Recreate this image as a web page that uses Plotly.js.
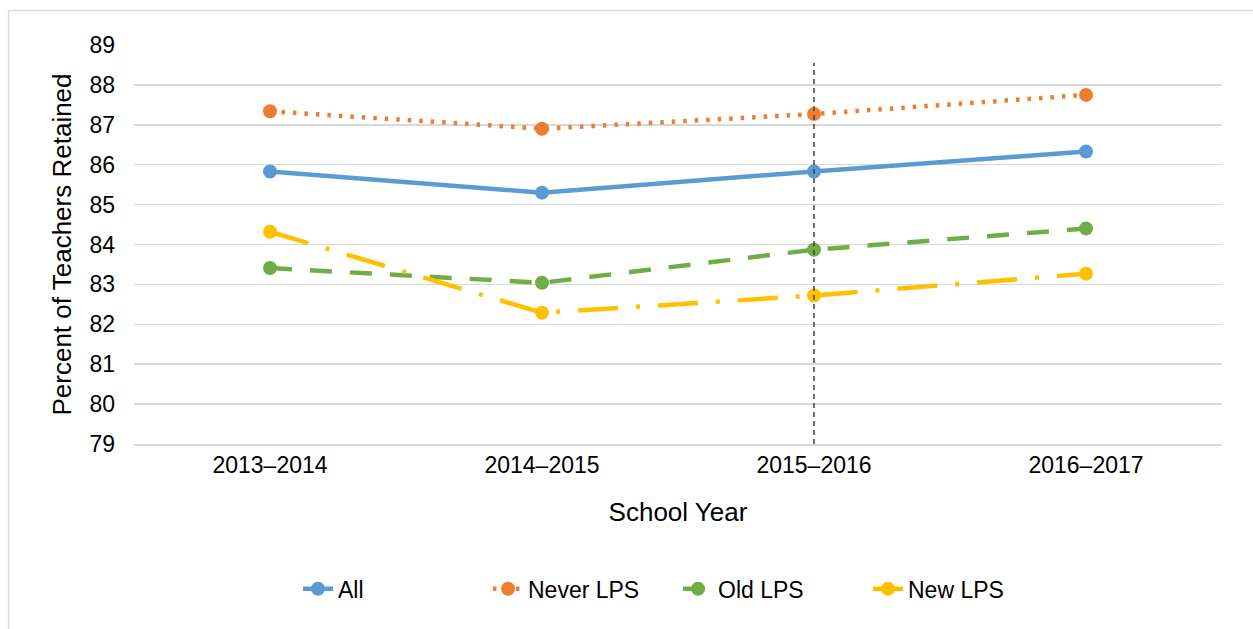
<!DOCTYPE html>
<html>
<head>
<meta charset="utf-8">
<script src="https://cdn.plot.ly/plotly-3.0.1.min.js"></script>
<style>html,body{margin:0;padding:0;background:#fff;}#chart{width:1253px;height:629px;}</style>
</head>
<body>
<div id="chart"></div>
<script>
const years = ["2013–2014", "2014–2015", "2015–2016", "2016–2017"];
const allValues = [85.83, 85.30, 85.83, 86.33];
const neverLPS = [87.34, 86.90, 87.27, 87.75];
const oldLPS = [83.41, 83.04, 83.87, 84.40];
const newLPS = [84.32, 82.29, 82.72, 83.27];
const seriesNames = ["All", "Never LPS", "Old LPS", "New LPS"];
const yTicks = [79, 80, 81, 82, 83, 84, 85, 86, 87, 88, 89];
const markerLineYear = "2015–2016";

const font = "'Liberation Sans', Arial, sans-serif";
const colors = ["#5B9BD5", "#ED7D31", "#70AD47", "#FFC000"];
const dashes = ["solid", "3.5px,8px", "22px,18px", "40px,18px,4px,18px"];
const data = [allValues, neverLPS, oldLPS, newLPS].map((v, i) => ({
  type: "scatter",
  mode: "lines+markers",
  x: years,
  y: v,
  name: seriesNames[i],
  line: {color: colors[i], width: 4.5, dash: dashes[i]},
  marker: {color: colors[i], size: 14}
}));

const layout = {
  width: 1253, height: 629,
  margin: {l: 134, r: 31, t: 45, b: 185},
  paper_bgcolor: "#fff", plot_bgcolor: "#fff",
  font: {family: font, color: "#000", size: 23},
  showlegend: true,
  legend: {orientation: "h", x: 0.5, xanchor: "center", y: -0.363, yanchor: "middle",
           font: {size: 23, family: font}, entrywidth: 145, entrywidthmode: "pixels", tracegroupgap: 0},
  xaxis: {
    type: "category", range: [-0.5, 3.5], showgrid: false, zeroline: false,
    showline: true, linecolor: "#d9d9d9", linewidth: 1.5,
    ticks: "", tickfont: {size: 23},
    title: {text: "School Year", font: {size: 26}, standoff: 25}
  },
  yaxis: {
    range: [79, 89], tickvals: yTicks, showgrid: true, gridcolor: "#d9d9d9", gridwidth: 1.5,
    zeroline: false, showline: false, ticks: "", tickfont: {size: 23}, ticklabelstandoff: 18,
    title: {text: "Percent of Teachers Retained", font: {size: 26}, standoff: 10}
  },
  shapes: [
    {type: "line", xref: "x", yref: "y", x0: markerLineYear, x1: markerLineYear, y0: 79, y1: 88.55,
     line: {color: "#404040", width: 1.5, dash: "5px,4px"}},
    {type: "line", xref: "paper", yref: "paper", x0: -0.1153, x1: 1.05, y0: 1.0865, y1: 1.0865,
     line: {color: "#d9d9d9", width: 1.5}},
    {type: "line", xref: "paper", yref: "paper", x0: -0.1153, x1: -0.1153, y0: 1.0865, y1: -0.5,
     line: {color: "#d9d9d9", width: 1.5}}
  ]
};
Plotly.newPlot("chart", data, layout, {displayModeBar: false, staticPlot: true});
</script>
</body>
</html>
